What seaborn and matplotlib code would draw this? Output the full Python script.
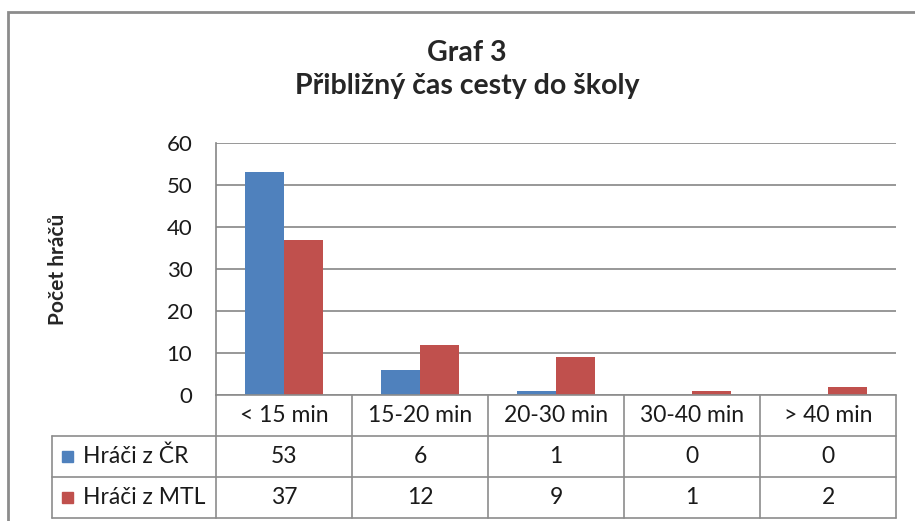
import matplotlib
matplotlib.use("Agg")
import matplotlib.pyplot as plt
import seaborn as sns
import pandas as pd
from matplotlib.patches import Rectangle
from matplotlib.lines import Line2D

# data
categories = ["< 15 min", "15-20 min", "20-30 min", "30-40 min", "> 40 min"]
series_names = ["Hráči z ČR", "Hráči z MTL"]
hraci_cr = [53, 6, 1, 0, 0]
hraci_mtl = [37, 12, 9, 1, 2]
colors = ["#4F81BD", "#C0504D"]

df = pd.DataFrame({
    "kategorie": categories * 2,
    "skupina": [series_names[0]] * 5 + [series_names[1]] * 5,
    "pocet": hraci_cr + hraci_mtl,
})

sns.set_style("white")
plt.rcParams["font.family"] = ["Lato", "DejaVu Sans"]

W, H = 915, 521
fig = plt.figure(figsize=(W / 100, H / 100), dpi=100)
# plot area in pixels: x 216..896, y 143..395
ax = fig.add_axes([216 / W, 1 - 395 / H, 680 / W, 252 / H])

sns.barplot(data=df, x="kategorie", y="pocet", hue="skupina", palette=colors,
            width=4 / 7, gap=0, saturation=1, linewidth=0, ax=ax, legend=False)

ax.set_ylim(0, 60)
ax.set_xlim(-0.5, 4.5)
ax.set_yticks(range(0, 61, 10))
ax.yaxis.grid(True, color="#868686", linewidth=1.2)
ax.set_axisbelow(True)
for s in ["top", "right", "bottom"]:
    ax.spines[s].set_visible(False)
ax.spines["left"].set_color("#868686")
ax.spines["left"].set_linewidth(1.2)
ax.tick_params(axis="y", length=0, labelsize=16, pad=17, colors="#1a1a1a")
ax.set_xticks([])
ax.set_xlabel("")
ax.set_ylabel("Počet hráčů", fontsize=15, fontweight="bold")
ax.yaxis.set_label_coords(-148 / 680, 0.5)

# data table below the plot (axes coords)
tr = ax.transAxes
px = 1 / 680.0
py = 1 / 252.0
rows_y = [0, -40.5 * py, -82 * py, -123 * py]
col_x = [i / 5 for i in range(6)]
left_x = -164 * px
gc = "#8c8c8c"
lw = 1.2
fs = 16.5

def hline(x0, x1, y):
    ax.add_line(Line2D([x0, x1], [y, y], transform=tr, color=gc, lw=lw, clip_on=False))

def vline(x, y0, y1):
    ax.add_line(Line2D([x, x], [y0, y1], transform=tr, color=gc, lw=lw, clip_on=False))

hline(0, 1, rows_y[0])
for y in rows_y[1:]:
    hline(left_x, 1, y)
for x in col_x:
    vline(x, rows_y[0], rows_y[3])
vline(left_x, rows_y[1], rows_y[3])

for i, cat in enumerate(categories):
    xc = (col_x[i] + col_x[i + 1]) / 2
    ax.text(xc, (rows_y[0] + rows_y[1]) / 2, cat, transform=tr, ha="center",
            va="center", fontsize=fs, color="#1a1a1a")
    for r, vals in enumerate([hraci_cr, hraci_mtl]):
        ax.text(xc, (rows_y[r + 1] + rows_y[r + 2]) / 2, str(vals[i]), transform=tr,
                ha="center", va="center", fontsize=fs, color="#1a1a1a")

for r, name in enumerate(series_names):
    yc = (rows_y[r + 1] + rows_y[r + 2]) / 2
    ax.add_patch(Rectangle((left_x + 10 * px, yc - 5.5 * py), 11 * px, 11 * py,
                           transform=tr, color=colors[r], clip_on=False))
    ax.text(left_x + 31 * px, yc, name, transform=tr, ha="left", va="center",
            fontsize=fs, color="#1a1a1a")

# title
fig.text(467 / W, 1 - 53 / H, "Graf 3", ha="center", va="center",
         fontsize=20.5, fontweight="bold")
fig.text(467 / W, 1 - 86 / H, "Přibližný čas cesty do školy", ha="center",
         va="center", fontsize=20.5, fontweight="bold")

# outer chart frame
fig.add_artist(Rectangle((7.5 / W, -0.1), 1.0, 1 - 11.5 / H + 0.1, transform=fig.transFigure,
                         fill=False, edgecolor="#8c8c8c", linewidth=2))

fig.savefig("out.png", dpi=100)
